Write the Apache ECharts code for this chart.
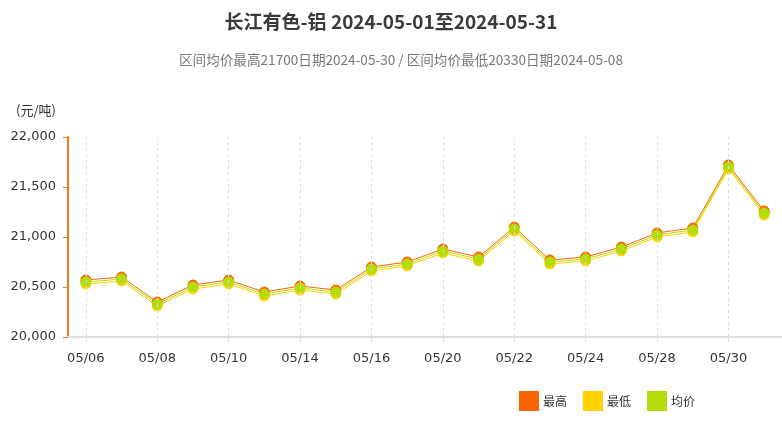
<!DOCTYPE html>
<html><head><meta charset="utf-8">
<script src="https://cdn.jsdelivr.net/npm/echarts@6/dist/echarts.min.js"></script>
<style>html,body{margin:0;padding:0;background:#fff;}#c{width:782px;height:422px;}</style>
</head><body><div id="c"></div>
<script>
const dates = ['05/06','05/07','05/08','05/09','05/10','05/13','05/14','05/15','05/16','05/17','05/20','05/21','05/22','05/23','05/24','05/27','05/28','05/29','05/30','05/31'];
const avgPrice = [20550,20580,20330,20500,20550,20430,20490,20450,20680,20730,20860,20780,21080,20750,20780,20880,21020,21070,21700,21240];
const highPrice = [20570,20600,20350,20520,20570,20450,20510,20470,20700,20750,20880,20800,21100,20770,20800,20900,21040,21090,21720,21260];
const lowPrice = [20530,20560,20310,20480,20530,20410,20470,20430,20660,20710,20840,20760,21060,20730,20760,20860,21000,21050,21680,21220];
const yTicks = [20000,20500,21000,21500,22000];

const chart = echarts.init(document.getElementById('c'));
const cjk = '"Noto Sans CJK SC", "DejaVu Sans", sans-serif';
const verd = '"DejaVu Sans", sans-serif';
function ser(name, data, color){
  return {name, type:'line', data, symbol:'circle', symbolSize:10, showSymbol:true, z:3,
    lineStyle:{color, width:1}, itemStyle:{color, borderColor:color, borderWidth:1}};
}
const gridLines = dates.filter((d,i)=>i%2===0).map(d=>({xAxis:d}));
const guide = {name:'guide', type:'line', data:[], silent:true, z:1,
  markLine:{silent:true, symbol:'none', label:{show:false},
    lineStyle:{color:'#dcdcdc', type:[3,3], width:1}, data:gridLines}};
chart.setOption({
  animation:false,
  title:[{text:'长江有色-铝 2024-05-01至2024-05-31', left:'center', top:7,
    textStyle:{fontFamily:cjk, fontSize:19, fontWeight:'bold', color:'#3a3a3a'}},
    {text:'', subtext:'区间均价最高21700日期2024-05-30 / 区间均价最低20330日期2024-05-08',
    left:174, top:48, itemGap:0,
    subtextStyle:{fontFamily:cjk, fontSize:13.6, color:'#777'}}],
  legend:{left:514, top:386, itemWidth:18, itemHeight:18, itemGap:16, icon:'rect',
    textStyle:{fontFamily:cjk, fontSize:12, color:'#333'},
    data:['最高','最低','均价']},
  grid:{left:68, right:0, top:137, bottom:85},
  xAxis:{type:'category', data:dates, boundaryGap:true,
    axisLine:{lineStyle:{color:'#e0e0e0', width:2}},
    axisTick:{show:true, alignWithLabel:true, interval:1, lineStyle:{color:'#e0e0e0'}},
    axisLabel:{interval:1, fontFamily:verd, fontSize:13, color:'#333', margin:15},
    splitLine:{show:false}},
  yAxis:{type:'value', min:yTicks[0], max:yTicks[yTicks.length-1], interval:500,
    name:'(元/吨)', nameLocation:'end', nameGap:20,
    nameTextStyle:{fontFamily:cjk, fontSize:13, color:'#333', align:'right', padding:[0,12,0,0]},
    axisLine:{show:true, lineStyle:{color:'#f07b1f', width:2}},
    axisTick:{show:true, length:5, lineStyle:{color:'#f07b1f'}},
    axisLabel:{fontFamily:verd, fontSize:13, color:'#333', margin:12,
      formatter:v=>v.toLocaleString('en-US')},
    splitLine:{show:false}},
  series:[guide, ser('最高', highPrice, '#fa6400'), ser('最低', lowPrice, '#ffd200'), ser('均价', avgPrice, '#b4dc0a')]
});
</script></body></html>
